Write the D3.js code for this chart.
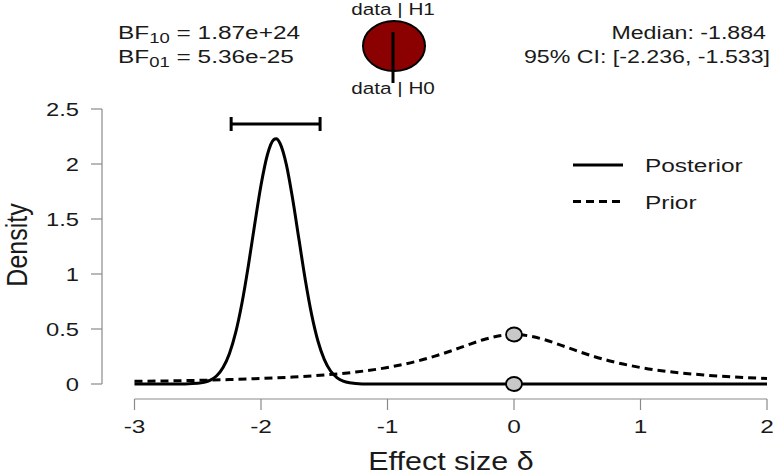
<!DOCTYPE html>
<html>
  <head>
    <meta charset="utf-8" />
    <script src="https://cdn.jsdelivr.net/npm/d3@7"></script>
    <style>
      body { margin: 0; background: #ffffff; }
      text { font-family: "Liberation Sans", Arial, sans-serif; fill: #1a1a1a; }
      .axis-line { stroke: #8a8a8a; stroke-width: 1.2; }
      .posterior { stroke: #000000; stroke-width: 3; fill: none; }
      .prior { stroke: #000000; stroke-width: 3; fill: none; stroke-dasharray: 8,5; }
      .dot { fill: #c8c8c8; stroke: #000000; stroke-width: 1.8; }
    </style>
  </head>
  <body>
    <svg width="780" height="476"></svg>

    <script type="text/javascript">

    // values
    var postX = [-3, -2.7, -2.6, -2.5, -2.45, -2.4, -2.35, -2.3, -2.25, -2.2, -2.15, -2.1, -2.05, -2.0,
                 -1.95, -1.9, -1.88, -1.85, -1.8, -1.75, -1.7, -1.65, -1.6, -1.55, -1.5, -1.45, -1.4,
                 -1.35, -1.3, -1.2, -1.0, 2];
    var postY = [0, 0, 0.001, 0.006, 0.015, 0.035, 0.075, 0.15, 0.276, 0.469, 0.739, 1.076, 1.45, 1.807,
                 2.082, 2.22, 2.229, 2.189, 1.997, 1.684, 1.315, 0.948, 0.633, 0.391, 0.224, 0.118, 0.058,
                 0.026, 0.011, 0.001, 0, 0];

    var priorX = [-3, -2.75, -2.5, -2.25, -2, -1.75, -1.5, -1.25, -1, -0.75, -0.625, -0.5, -0.375, -0.25,
                  -0.125, 0, 0.125, 0.25, 0.375, 0.5, 0.625, 0.75, 1, 1.25, 1.5, 1.75, 2];
    var priorY = [0.024, 0.028, 0.033, 0.040, 0.050, 0.063, 0.082, 0.109, 0.150, 0.212, 0.253, 0.300, 0.351, 0.400,
                  0.436, 0.450, 0.436, 0.400, 0.351, 0.300, 0.253, 0.212, 0.150, 0.109, 0.082, 0.063, 0.050];

    var pointX = [0, 0];
    var pointY = [0.45, 0];

    var ciLow = -2.236, ciHigh = -1.533;

    var xTicks = [-3, -2, -1, 0, 1, 2];
    var yTicks = [0, 0.5, 1, 1.5, 2, 2.5];
    var yTickLabels = ["0", "0.5", "1", "1.5", "2", "2.5"];

    var legendNames = ["Posterior", "Prior"];

    // picture is stretched sideways, text too
    var SX = 1.32;

    var svg = d3.select("svg");

    var x = d3.scaleLinear().domain([-3, 2]).range([134.5, 767]);
    var y = d3.scaleLinear().domain([0, 2.5]).range([384, 109]);

    function label(str, px, py, anchor, size, sx) {
      return svg.append("text")
        .attr("transform", "translate(" + px + "," + py + ") scale(" + (sx || SX) + ",1)")
        .attr("text-anchor", anchor)
        .style("font-size", size + "px")
        .text(str);
    }

    // y axis
    svg.append("line").attr("class", "axis-line")
      .attr("x1", 102).attr("x2", 102).attr("y1", y(2.5)).attr("y2", y(0));
    svg.selectAll(".ytick").data(yTicks).enter().append("line")
      .attr("class", "axis-line ytick")
      .attr("x1", 91).attr("x2", 102)
      .attr("y1", function(d) { return y(d); }).attr("y2", function(d) { return y(d); });
    yTicks.forEach(function(d, i) {
      label(yTickLabels[i], 79, y(d) + 6.5, "end", 18);
    });

    // x axis
    svg.append("line").attr("class", "axis-line")
      .attr("x1", x(-3)).attr("x2", x(2)).attr("y1", 399).attr("y2", 399);
    svg.selectAll(".xtick").data(xTicks).enter().append("line")
      .attr("class", "axis-line xtick")
      .attr("x1", function(d) { return x(d); }).attr("x2", function(d) { return x(d); })
      .attr("y1", 399).attr("y2", 410);
    xTicks.forEach(function(d) {
      label(String(d), x(d), 433, "middle", 18.5);
    });

    label("Effect size \u03b4", 451, 470, "middle", 25, 1.22);
    svg.append("text")
      .attr("transform", "translate(27,245) scale(1.18,1) rotate(-90)")
      .attr("text-anchor", "middle")
      .style("font-size", "25px")
      .text("Density");

    // curves
    var line = d3.line()
      .x(function(d) { return x(d[0]); })
      .y(function(d) { return y(d[1]); })
      .curve(d3.curveMonotoneX);

    svg.append("path").attr("class", "posterior")
      .attr("d", line(d3.zip(postX, postY)));
    svg.append("path").attr("class", "prior")
      .attr("d", line(d3.zip(priorX, priorY)));

    svg.selectAll(".dot").data(d3.zip(pointX, pointY)).enter().append("ellipse")
      .attr("class", "dot")
      .attr("cx", function(d) { return x(d[0]); })
      .attr("cy", function(d) { return y(d[1]); })
      .attr("rx", 8).attr("ry", 7);

    // credible interval bar
    var ciY = 124;
    svg.append("line").attr("stroke", "#000").attr("stroke-width", 3)
      .attr("x1", x(ciLow)).attr("x2", x(ciHigh)).attr("y1", ciY).attr("y2", ciY);
    [ciLow, ciHigh].forEach(function(v) {
      svg.append("line").attr("stroke", "#000").attr("stroke-width", 3)
        .attr("x1", x(v)).attr("x2", x(v)).attr("y1", ciY - 7).attr("y2", ciY + 7);
    });

    // legend
    legendNames.forEach(function(name, i) {
      var ly = 165 + i * 36.5;
      svg.append("line").attr("class", i === 0 ? "posterior" : "prior")
        .attr("x1", 573).attr("x2", 623).attr("y1", ly).attr("y2", ly);
      label(name, 645, ly + 7, "start", 18.5);
    });

    // header: Bayes factors
    var bf10 = label("", 118, 39, "start", 18.5);
    bf10.append("tspan").text("BF");
    bf10.append("tspan").attr("dy", 4).style("font-size", "14px").text("10");
    bf10.append("tspan").attr("dy", -4).text(" = 1.87e+24");

    var bf01 = label("", 118, 63, "start", 18.5);
    bf01.append("tspan").text("BF");
    bf01.append("tspan").attr("dy", 4).style("font-size", "14px").text("01");
    bf01.append("tspan").attr("dy", -4).text(" = 5.36e-25");

    label("Median: -1.884", 766, 39, "end", 19, 1.22);
    label("95% CI: [-2.236, -1.533]", 770, 63, "end", 19, 1.22);

    // pie of probabilities
    svg.append("ellipse")
      .attr("cx", 394).attr("cy", 46).attr("rx", 31).attr("ry", 25)
      .attr("fill", "#8b0000").attr("stroke", "#000").attr("stroke-width", 2);
    svg.append("line").attr("stroke", "#000").attr("stroke-width", 3)
      .attr("x1", 393).attr("x2", 393).attr("y1", 32).attr("y2", 83);
    label("data | H1", 393, 15, "middle", 17, 1.22);
    label("data | H0", 393, 94, "middle", 17, 1.22);

    </script>
  </body>
</html>
